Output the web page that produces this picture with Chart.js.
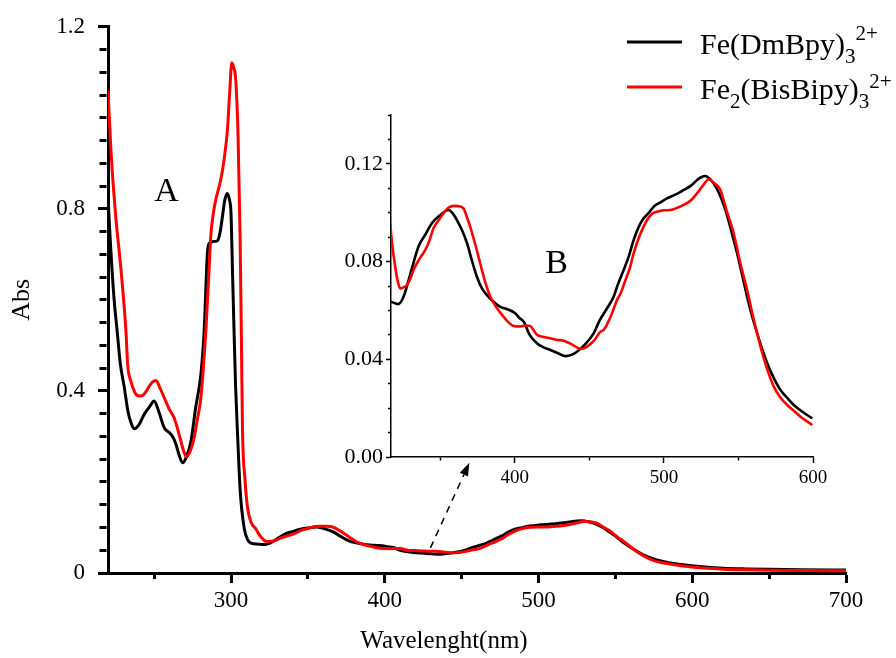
<!DOCTYPE html>
<html lang="en">
<head>
<meta charset="UTF-8">
<title>Fe complexes absorption</title>
<style>
  body { margin: 0; background: #fff; }
  #wrap { position: relative; width: 896px; height: 658px; }
  #wrap canvas { position: absolute; left: 0; top: 0; }
</style>
</head>
<body>
<div id="wrap">
  <canvas id="mainChart" width="896" height="658"></canvas>
  <canvas id="insetChart" width="896" height="658"></canvas>
</div>
<script src="https://cdn.jsdelivr.net/npm/chart.js"></script>
<script>
// ---- Fe(DmBpy)3 2+ (black) ----
const wlBlackUV = [220, 221, 222, 224, 226, 228, 230.5, 233, 235, 237, 240, 243.6, 247, 250, 253, 256.6, 260, 262, 264, 266, 268.5, 271, 274, 277, 280.4, 282.5, 284.7, 286, 288, 291.2, 293, 294.5, 296, 297.5, 299, 300, 301, 302, 303, 304.2, 306, 308.5, 311, 313.5];
const absBlackUV = [0.83, 0.76, 0.70, 0.60, 0.53, 0.46, 0.41, 0.355, 0.33, 0.317, 0.325, 0.349, 0.365, 0.378, 0.355, 0.319, 0.308, 0.30, 0.285, 0.262, 0.242, 0.255, 0.29, 0.363, 0.436, 0.53, 0.705, 0.725, 0.728, 0.73, 0.75, 0.785, 0.82, 0.834, 0.82, 0.79, 0.66, 0.53, 0.41, 0.31, 0.18, 0.10, 0.072, 0.065];
const wlBlackVis = [316.9, 322, 325.4, 330, 335.4, 340, 344.4, 350, 355.6, 358, 361.2, 364.5, 368, 371, 374.6, 378, 381.3, 385, 390.3, 395, 400.3, 403, 406, 410, 415, 419, 423.8, 429, 434, 438, 441.7, 447, 452.9, 457, 462, 466.3, 468.6, 472, 476.4, 479.7, 483, 486.4, 490, 493.2, 497, 502.1, 508, 513.3, 518, 522.3, 525, 527.9, 530.5, 533.4, 537, 541.3, 545, 549.1, 552.5, 555.8, 559, 562.6, 566, 569.3, 574, 578.2, 583, 587.1, 593, 599.5];
const absBlackVis = [0.0636, 0.0626, 0.0656, 0.075, 0.0861, 0.091, 0.0957, 0.099, 0.1011, 0.100, 0.097, 0.093, 0.0875, 0.081, 0.0738, 0.069, 0.0663, 0.064, 0.0615, 0.0605, 0.0588, 0.057, 0.0554, 0.050, 0.0465, 0.045, 0.0438, 0.0425, 0.0413, 0.0418, 0.0431, 0.046, 0.0506, 0.056, 0.061, 0.0656, 0.0697, 0.075, 0.082, 0.0888, 0.094, 0.0977, 0.100, 0.1025, 0.104, 0.1059, 0.1075, 0.1093, 0.111, 0.1134, 0.1145, 0.115, 0.114, 0.112, 0.108, 0.1011, 0.093, 0.0834, 0.0745, 0.0656, 0.058, 0.0506, 0.044, 0.0384, 0.032, 0.0274, 0.024, 0.0213, 0.0185, 0.0158];

// ---- Fe2(BisBipy)3 2+ (red) ----
const wlRedUV = [220, 222, 225.2, 228.4, 231.7, 232.8, 235, 237, 239, 241.4, 244, 246.8, 249, 251.2, 254, 256.6, 259.8, 263, 265, 267.4, 269.5, 271.1, 273.5, 276, 278, 280.4, 283.6, 285.5, 286.9, 288.5, 290.1, 293.4, 295.5, 297.7, 299.2, 300.5, 301.8, 303.1, 304.6, 305.9, 306.7, 307.5, 309, 310.7, 313];
const absRedUV = [1.06, 0.923, 0.777, 0.668, 0.53, 0.458, 0.42, 0.40, 0.39, 0.389, 0.395, 0.41, 0.42, 0.423, 0.405, 0.385, 0.36, 0.341, 0.32, 0.29, 0.265, 0.255, 0.268, 0.297, 0.335, 0.385, 0.53, 0.65, 0.742, 0.79, 0.82, 0.865, 0.908, 0.974, 1.06, 1.121, 1.11, 1.083, 0.96, 0.742, 0.53, 0.312, 0.21, 0.145, 0.112];
const wlRedVis = [316.4, 318, 319.8, 321.5, 323.2, 325.5, 327.7, 330, 332.1, 336, 340, 343, 345.5, 349, 352.2, 355.5, 358.9, 362, 365.6, 368, 370.1, 373.5, 376.8, 380, 383.6, 388, 392.5, 396, 399.2, 403.7, 407, 410.4, 412.5, 414.9, 419, 423.8, 428, 432.8, 437, 442.8, 445.5, 448.5, 453, 457.4, 459.6, 464, 468.6, 471, 474, 477.5, 479.7, 484, 488.7, 492, 495.4, 500, 504.4, 509, 513.3, 518, 522.3, 526, 530.1, 533, 537.9, 542, 546.8, 551, 555.8, 560, 564.8, 569, 573.7, 578, 582.7, 587, 591.6, 595.5, 599.5];
const absRedVis = [0.0957, 0.086, 0.078, 0.072, 0.069, 0.0695, 0.0704, 0.073, 0.0766, 0.081, 0.0848, 0.089, 0.0936, 0.097, 0.0998, 0.102, 0.1028, 0.1027, 0.1018, 0.098, 0.0943, 0.087, 0.0793, 0.072, 0.0656, 0.061, 0.0574, 0.055, 0.0536, 0.0534, 0.0538, 0.0536, 0.052, 0.050, 0.0492, 0.0486, 0.048, 0.0476, 0.0465, 0.0445, 0.0443, 0.0452, 0.0475, 0.0513, 0.052, 0.057, 0.0643, 0.067, 0.072, 0.078, 0.0834, 0.091, 0.097, 0.0995, 0.1004, 0.101, 0.1011, 0.102, 0.1032, 0.105, 0.108, 0.111, 0.1137, 0.1125, 0.1093, 0.101, 0.0916, 0.080, 0.0684, 0.057, 0.0452, 0.0365, 0.0288, 0.0245, 0.0213, 0.019, 0.0165, 0.0148, 0.0131];

// tail beyond 600 nm (main plot only)
const wlTail = [610, 620, 635, 650, 670, 700];
const absBlackTail = [0.0125, 0.0105, 0.009, 0.008, 0.007, 0.0065];
const absRedTail = [0.0105, 0.0085, 0.007, 0.006, 0.0055, 0.005];

// ticks
const mainXMajor = [300, 400, 500, 600, 700];
const mainXMinor = [250, 350, 450, 550, 650];
const mainYLabelVals = [0, 0.4, 0.8, 1.2];
const mainYLabels = ['0', '0.4', '0.8', '1.2'];
const insetXMajor = [400, 500, 600];
const insetXMinor = [350, 450, 550];
const insetYLabelVals = [0, 0.04, 0.08, 0.12];
const insetYLabels = ['0.00', '0.04', '0.08', '0.12'];

const seriesNames = ['Fe(DmBpy)₃²⁺', 'Fe₂(BisBipy)₃²⁺'];

const FONT = "'Liberation Serif', 'Times New Roman', serif";
Chart.defaults.font.family = FONT;
Chart.defaults.color = '#000';

function pts(xs, ys) { return xs.map((x, i) => ({ x: x, y: ys[i] })); }

function xTicks(major, minor) {
  return function (scale) {
    const t = major.map(v => ({ value: v, major: true })).concat(minor.map(v => ({ value: v, major: false })));
    t.sort((a, b) => a.value - b.value);
    scale.ticks = t;
  };
}
function yTicks(step, count, labelVals) {
  return function (scale) {
    const t = [];
    for (let i = 0; i <= count; i++) {
      const v = +(i * step).toFixed(4);
      t.push({ value: v, major: labelVals.some(l => Math.abs(l - v) < 1e-6) });
    }
    scale.ticks = t;
  };
}
function labelFor(vals, labels) {
  return function (value) {
    const i = vals.findIndex(v => Math.abs(v - value) < 1e-6);
    return i >= 0 ? labels[i] : '';
  };
}

// ---------- main chart ----------
const mainExtras = {
  id: 'mainExtras',
  afterDraw(chart) {
    const ctx = chart.ctx, xs = chart.scales.x, ys = chart.scales.y, ca = chart.chartArea;
    ctx.save();
    ctx.fillStyle = '#000';
    // panel letter
    ctx.font = '34px ' + FONT;
    ctx.textAlign = 'center';
    ctx.textBaseline = 'middle';
    ctx.fillText('A', xs.getPixelForValue(258), ys.getPixelForValue(0.836));
    // x axis title
    ctx.font = '25px ' + FONT;
    ctx.textBaseline = 'alphabetic';
    ctx.fillText('Wavelenght(nm)', (ca.left + ca.right) / 2 - 33, 648);
    // dashed arrow toward inset
    const x0 = xs.getPixelForValue(429.7), y0 = ys.getPixelForValue(0.055);
    const x1 = xs.getPixelForValue(455), y1 = ys.getPixelForValue(0.242);
    const ang = Math.atan2(y1 - y0, x1 - x0), hl = 13, hw = 4.5;
    const bx = x1 - hl * Math.cos(ang), by = y1 - hl * Math.sin(ang);
    ctx.strokeStyle = '#000';
    ctx.lineWidth = 1.5;
    ctx.setLineDash([7, 6]);
    ctx.beginPath(); ctx.moveTo(x0, y0); ctx.lineTo(bx, by); ctx.stroke();
    ctx.setLineDash([]);
    ctx.beginPath();
    ctx.moveTo(x1, y1);
    ctx.lineTo(bx + hw * Math.sin(ang), by - hw * Math.cos(ang));
    ctx.lineTo(bx - hw * Math.sin(ang), by + hw * Math.cos(ang));
    ctx.closePath(); ctx.fill();
    // legend with sub/superscripts
    const entries = [
      { color: '#000000', y: 42, sup: 14, parts: [['Fe(DmBpy)', 0], ['3', 1], ['2+', -1]] },
      { color: '#ff0000', y: 87, sup: 11, parts: [['Fe', 0], ['2', 1], ['(BisBipy)', 0], ['3', 1], ['2+', -1]] }
    ];
    entries.forEach(e => {
      ctx.strokeStyle = e.color; ctx.lineWidth = 3;
      ctx.beginPath(); ctx.moveTo(627, e.y); ctx.lineTo(682, e.y); ctx.stroke();
      let x = 700; const base = e.y + 12;
      ctx.textAlign = 'left'; ctx.textBaseline = 'alphabetic'; ctx.fillStyle = '#000';
      e.parts.forEach(p => {
        if (p[1] === 0) {
          ctx.font = '30px ' + FONT; ctx.fillText(p[0], x, base); x += ctx.measureText(p[0]).width;
        } else if (p[1] === 1) {
          ctx.font = '21px ' + FONT; ctx.fillText(p[0], x, base + 9); x += ctx.measureText(p[0]).width;
        } else {
          ctx.font = '21px ' + FONT; ctx.fillText(p[0], x, base - e.sup); x += ctx.measureText(p[0]).width;
        }
      });
    });
    ctx.restore();
  }
};

new Chart(document.getElementById('mainChart'), {
  type: 'line',
  data: {
    datasets: [
      { label: seriesNames[1], data: pts(wlRedUV.concat(wlRedVis, wlTail), absRedUV.concat(absRedVis, absRedTail)), borderColor: '#ff0000', borderWidth: 3, order: 1 },
      { label: seriesNames[0], data: pts(wlBlackUV.concat(wlBlackVis, wlTail), absBlackUV.concat(absBlackVis, absBlackTail)), borderColor: '#000000', borderWidth: 3, order: 2 }
    ]
  },
  options: {
    responsive: false, animation: false, devicePixelRatio: 1,
    layout: { padding: { left: 0, right: 50, top: 23, bottom: 0 } },
    elements: { point: { radius: 0 }, line: { cubicInterpolationMode: 'monotone', borderJoinStyle: 'round' } },
    plugins: { legend: { display: false }, tooltip: { enabled: false } },
    scales: {
      x: {
        type: 'linear', min: 220, max: 700,
        afterBuildTicks: xTicks(mainXMajor, mainXMinor),
        afterFit: s => { s.height = 85; },
        border: { display: true, color: '#000', width: 3 },
        grid: {
          drawOnChartArea: false, tickLength: 10, tickWidth: 3, tickColor: '#000',
          tickBorderDash: c => (c.tick && c.tick.major) ? [] : [4, 100]
        },
        ticks: { autoSkip: false, maxRotation: 0, padding: 4, font: { size: 23 },
          callback: (v) => mainXMajor.includes(v) ? String(v) : '' }
      },
      y: {
        type: 'linear', min: 0, max: 1.2,
        afterBuildTicks: yTicks(0.05, 24, mainYLabelVals),
        afterFit: s => { s.width = 108; },
        border: { display: true, color: '#000', width: 3 },
        grid: {
          drawOnChartArea: false, tickLength: 10, tickWidth: 3, tickColor: '#000',
          tickBorderDash: c => (c.tick && c.tick.major) ? [] : [0, 1.5, 7, 100]
        },
        ticks: { autoSkip: false, padding: 13, font: { size: 23 }, callback: labelFor(mainYLabelVals, mainYLabels) },
        title: { display: true, text: 'Abs', font: { size: 26 }, padding: { top: 7, bottom: 0 } }
      }
    }
  },
  plugins: [mainExtras]
});

// ---------- inset chart ----------
const insetExtras = {
  id: 'insetExtras',
  afterDraw(chart) {
    const ctx = chart.ctx;
    ctx.save();
    ctx.fillStyle = '#000';
    ctx.font = '34px ' + FONT;
    ctx.textAlign = 'center';
    ctx.textBaseline = 'middle';
    ctx.fillText('B', chart.scales.x.getPixelForValue(428), chart.scales.y.getPixelForValue(0.079));
    ctx.restore();
  }
};

new Chart(document.getElementById('insetChart'), {
  type: 'line',
  data: {
    datasets: [
      { label: seriesNames[1], data: pts(wlRedVis, absRedVis), borderColor: '#ff0000', borderWidth: 2.6, order: 1 },
      { label: seriesNames[0], data: pts(wlBlackVis, absBlackVis), borderColor: '#000000', borderWidth: 2.6, order: 2 }
    ]
  },
  options: {
    responsive: false, animation: false, devicePixelRatio: 1,
    layout: { padding: { left: 341, right: 83, top: 115, bottom: 171 } },
    elements: { point: { radius: 0 }, line: { cubicInterpolationMode: 'monotone', borderJoinStyle: 'round' } },
    plugins: { legend: { display: false }, tooltip: { enabled: false } },
    scales: {
      x: {
        type: 'linear', min: 317, max: 600,
        afterBuildTicks: xTicks(insetXMajor, insetXMinor),
        afterFit: s => { s.height = 30; },
        border: { display: true, color: '#000', width: 1.5 },
        grid: {
          drawOnChartArea: false, tickLength: 6, tickWidth: 1.5, tickColor: '#000',
          tickBorderDash: c => (c.tick && c.tick.major) ? [] : [3, 100]
        },
        ticks: { autoSkip: false, maxRotation: 0, padding: 4, font: { size: 19 },
          callback: (v) => insetXMajor.includes(v) ? String(v) : '' }
      },
      y: {
        type: 'linear', min: 0, max: 0.14,
        afterBuildTicks: yTicks(0.01, 14, insetYLabelVals),
        afterFit: s => { s.width = 50; },
        border: { display: true, color: '#000', width: 1.5 },
        grid: {
          drawOnChartArea: false, tickLength: 5, tickWidth: 1.5, tickColor: '#000',
          tickBorderDash: c => (c.tick && c.tick.major) ? [] : [0, 2, 3, 100]
        },
        ticks: { autoSkip: false, padding: 3, font: { size: 22 }, callback: labelFor(insetYLabelVals, insetYLabels) }
      }
    }
  },
  plugins: [insetExtras]
});
</script>
</body>
</html>
